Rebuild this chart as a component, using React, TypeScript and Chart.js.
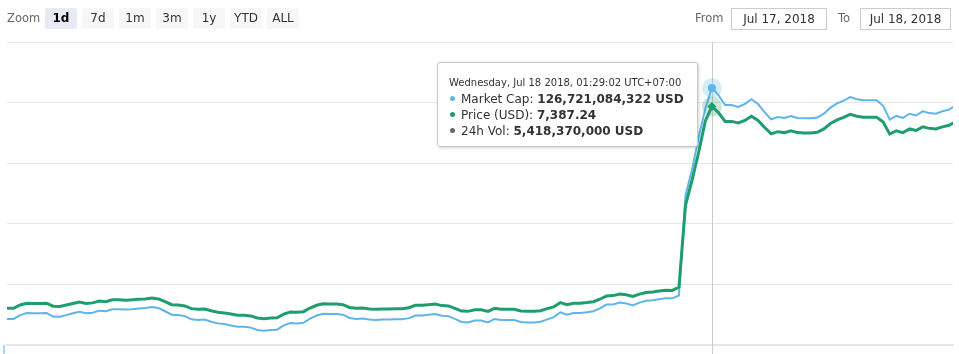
import React, { useEffect, useRef, useState } from 'react';
import { Chart, registerables } from 'chart.js';

Chart.register(...registerables);

// ---- Data (10-minute samples, Jul 17 2018 07:39 -> Jul 18 2018 07:39, UTC+07:00) ----
const priceUsd: number[] = [
  6721, 6721, 6732, 6738, 6737, 6737, 6738, 6728, 6727, 6732,
  6737, 6742, 6737, 6739, 6745, 6743, 6749, 6749, 6748, 6749,
  6751, 6752, 6755, 6752, 6743, 6733, 6732, 6729, 6720, 6718,
  6719, 6713, 6708, 6706, 6702, 6698, 6698, 6696, 6689, 6687,
  6689, 6690, 6702, 6709, 6708, 6710, 6722, 6731, 6736, 6735,
  6735, 6733, 6724, 6721, 6722, 6719, 6718, 6719, 6719, 6720,
  6720, 6723, 6731, 6731, 6733, 6735, 6730, 6729, 6721, 6712,
  6711, 6716, 6716, 6711, 6721, 6718, 6718, 6718, 6712, 6711,
  6711, 6713, 6720, 6726, 6740, 6733, 6738, 6738, 6740, 6743,
  6751, 6762, 6763, 6768, 6766, 6760, 6768, 6773, 6775, 6778,
  6781, 6780, 6791, 7062, 7145, 7237, 7339, 7387.24, 7367, 7338,
  7338, 7333, 7341, 7355, 7341, 7318, 7297, 7304, 7301, 7307,
  7301, 7300, 7300, 7302, 7313, 7331, 7343, 7351, 7361, 7355,
  7352, 7352, 7352, 7336, 7296, 7307, 7301, 7313, 7308, 7320,
  7315, 7313, 7320, 7325, 7337,
];

// Market cap in billions of USD
const marketCapB: number[] = [
  115.29, 115.29, 115.48, 115.58, 115.57, 115.57, 115.58, 115.41, 115.40, 115.48,
  115.57, 115.65, 115.57, 115.60, 115.70, 115.67, 115.77, 115.77, 115.76, 115.77,
  115.81, 115.83, 115.88, 115.83, 115.67, 115.50, 115.48, 115.43, 115.27, 115.24,
  115.26, 115.15, 115.07, 115.04, 114.97, 114.90, 114.90, 114.86, 114.74, 114.71,
  114.74, 114.76, 114.97, 115.09, 115.07, 115.10, 115.31, 115.46, 115.55, 115.53,
  115.53, 115.50, 115.34, 115.29, 115.31, 115.26, 115.24, 115.26, 115.26, 115.27,
  115.27, 115.33, 115.46, 115.46, 115.50, 115.53, 115.45, 115.43, 115.29, 115.14,
  115.12, 115.21, 115.21, 115.12, 115.29, 115.24, 115.24, 115.24, 115.14, 115.12,
  115.12, 115.15, 115.27, 115.38, 115.62, 115.50, 115.58, 115.58, 115.62, 115.67,
  115.81, 116.00, 116.01, 116.10, 116.06, 115.96, 116.10, 116.19, 116.22, 116.27,
  116.32, 116.31, 116.45, 121.40, 122.70, 124.30, 125.70, 126.721084322, 126.37, 125.88,
  125.88, 125.79, 125.93, 126.17, 125.93, 125.53, 125.17, 125.29, 125.24, 125.34,
  125.24, 125.22, 125.22, 125.26, 125.45, 125.75, 125.96, 126.10, 126.27, 126.17,
  126.12, 126.12, 126.12, 125.84, 125.16, 125.34, 125.24, 125.45, 125.36, 125.57,
  125.48, 125.45, 125.57, 125.65, 125.86,
];

const hoverIndex = 107;
const hoverTimeLabel = 'Wednesday, Jul 18 2018, 01:29:02 UTC+07:00';
const hoverVolume24h = 5418370000;

const priceTicks = { min: 6600, max: 7600, step: 200 };
const capTicks = { min: 114, max: 129 };
const xRange = { min: 0, max: 143.6 }; // visible range in sample units

const zoomButtons: string[] = ['1d', '7d', '1m', '3m', '1y', 'YTD', 'ALL'];
const selectedZoom = '1d';
const fromDate = 'Jul 17, 2018';
const toDate = 'Jul 18, 2018';

const BLUE = '#5db5ea';
const GREEN = '#1e9e6e';
const GREY_DOT = '#666666';
const FONT = '"DejaVu Sans", "Liberation Sans", sans-serif';

const hoverPlugin = {
  id: 'hoverMarks',
  beforeDatasetsDraw(chart: any) {
    const pt = chart.getDatasetMeta(0).data[hoverIndex];
    if (!pt) return;
    const ctx = chart.ctx;
    ctx.save();
    ctx.strokeStyle = '#cccccc';
    ctx.lineWidth = 1;
    const x = Math.round(pt.x) + 0.5;
    ctx.beginPath();
    ctx.moveTo(x, chart.chartArea.top);
    ctx.lineTo(x, chart.height);
    ctx.stroke();
    ctx.restore();
  },
  afterDatasetsDraw(chart: any) {
    const ctx = chart.ctx;
    const cap = chart.getDatasetMeta(0).data[hoverIndex];
    const pr = chart.getDatasetMeta(1).data[hoverIndex];
    if (!cap || !pr) return;
    ctx.save();
    ctx.fillStyle = 'rgba(93,181,234,0.25)';
    ctx.beginPath();
    ctx.arc(cap.x, cap.y, 10, 0, Math.PI * 2);
    ctx.fill();
    ctx.fillStyle = 'rgba(30,158,110,0.25)';
    ctx.beginPath();
    ctx.arc(pr.x, pr.y, 10, 0, Math.PI * 2);
    ctx.fill();
    ctx.fillStyle = BLUE;
    ctx.beginPath();
    ctx.arc(cap.x, cap.y, 4, 0, Math.PI * 2);
    ctx.fill();
    ctx.fillStyle = GREEN;
    ctx.beginPath();
    ctx.moveTo(pr.x, pr.y - 4.5);
    ctx.lineTo(pr.x + 4.5, pr.y);
    ctx.lineTo(pr.x, pr.y + 4.5);
    ctx.lineTo(pr.x - 4.5, pr.y);
    ctx.closePath();
    ctx.fill();
    ctx.restore();
  },
};

const fmtInt = (v: number) => Math.round(v).toLocaleString('en-US');
const fmtPrice = (v: number) =>
  v.toLocaleString('en-US', { minimumFractionDigits: 2, maximumFractionDigits: 2 });

export default function App() {
  const canvasRef = useRef<HTMLCanvasElement | null>(null);
  const [tipPos, setTipPos] = useState<{ left: number; top: number } | null>(null);

  useEffect(() => {
    if (!canvasRef.current) return;
    const capPoints = marketCapB.map((v, i) => ({ x: i, y: v }));
    const pricePoints = priceUsd.map((v, i) => ({ x: i, y: v }));
    const chart = new Chart(canvasRef.current, {
      type: 'line',
      data: {
        datasets: [
          {
            label: 'Market Cap',
            data: capPoints,
            yAxisID: 'yCap',
            borderColor: BLUE,
            borderWidth: 2,
            pointRadius: 0,
            tension: 0,
            order: 1,
          },
          {
            label: 'Price (USD)',
            data: pricePoints,
            yAxisID: 'yPrice',
            borderColor: GREEN,
            borderWidth: 3,
            pointRadius: 0,
            tension: 0,
            order: 0,
          },
        ],
      },
      options: {
        animation: false,
        responsive: false,
        maintainAspectRatio: false,
        events: [],
        layout: { padding: { left: 7, right: 6, top: 42, bottom: 9 } },
        plugins: { legend: { display: false }, tooltip: { enabled: false } },
        scales: {
          x: {
            type: 'linear',
            min: xRange.min,
            max: xRange.max,
            offset: false,
            grid: { display: false },
            ticks: { display: false },
            border: { display: true, color: '#e6e6e6', width: 2 },
            afterFit: (s: any) => { s.height = 0; },
          },
          yPrice: {
            position: 'left',
            min: priceTicks.min,
            max: priceTicks.max,
            ticks: { display: false, stepSize: priceTicks.step },
            grid: { color: '#e6e6e6', lineWidth: 1, drawTicks: false },
            border: { display: false },
            afterFit: (s: any) => { s.width = 0; },
          },
          yCap: {
            position: 'right',
            min: capTicks.min,
            max: capTicks.max,
            display: false,
          },
        },
      } as any,
      plugins: [hoverPlugin],
    });
    const cap = chart.getDatasetMeta(0).data[hoverIndex] as any;
    if (cap) setTipPos({ left: Math.round(cap.x) - 275, top: Math.round(cap.y) - 26 });
    return () => chart.destroy();
  }, []);

  const btnBase: React.CSSProperties = {
    position: 'absolute',
    top: 8,
    width: 32,
    height: 21,
    lineHeight: '21px',
    textAlign: 'center',
    fontSize: 12,
    color: '#333333',
    borderRadius: 2,
  };

  return (
    <div
      style={{
        position: 'fixed',
        left: 0,
        top: 0,
        width: 959,
        height: 354,
        background: '#ffffff',
        fontFamily: FONT,
        overflow: 'hidden',
      }}
    >
      <canvas ref={canvasRef} width={959} height={354} style={{ position: 'absolute', left: 0, top: 0 }} />

      <div style={{ position: 'absolute', left: 7, top: 8, height: 21, lineHeight: '21px', fontSize: 11.5, color: '#666666' }}>
        Zoom
      </div>
      {zoomButtons.map((b, i) => {
        const sel = b === selectedZoom;
        return (
          <div
            key={b}
            style={{
              ...btnBase,
              left: 45 + i * 37,
              background: sel ? '#e6ebf5' : '#f7f7f7',
              fontWeight: sel ? 'bold' : 'normal',
              color: sel ? '#000000' : '#333333',
            }}
          >
            {b}
          </div>
        );
      })}

      <div style={{ position: 'absolute', left: 695, top: 8, height: 21, lineHeight: '21px', fontSize: 11.5, color: '#666666' }}>
        From
      </div>
      <div
        style={{
          position: 'absolute', left: 731, top: 8, width: 94, height: 20, lineHeight: '20px',
          border: '1px solid #cccccc', textAlign: 'center', fontSize: 12, color: '#333333',
        }}
      >
        {fromDate}
      </div>
      <div style={{ position: 'absolute', left: 838, top: 8, height: 21, lineHeight: '21px', fontSize: 11.5, color: '#666666' }}>
        To
      </div>
      <div
        style={{
          position: 'absolute', left: 860, top: 8, width: 89, height: 20, lineHeight: '20px',
          border: '1px solid #cccccc', textAlign: 'center', fontSize: 12, color: '#333333',
        }}
      >
        {toDate}
      </div>

      <div style={{ position: 'absolute', left: 3, top: 345, width: 2, height: 9, background: '#b3d4f0' }} />

      {tipPos && (
        <div
          style={{
            position: 'absolute',
            left: tipPos.left,
            top: tipPos.top,
            width: 261,
            height: 85,
            background: 'rgba(255,255,255,0.97)',
            border: '1px solid #c8c8c8',
            borderRadius: 3,
            boxShadow: '1px 1px 3px rgba(0,0,0,0.18)',
            padding: '12px 0 0 11px',
            boxSizing: 'border-box',
            fontFamily: FONT,
            color: '#333333',
            whiteSpace: 'nowrap',
          }}
        >
          <div style={{ fontSize: 10, lineHeight: '16px', height: 16 }}>{hoverTimeLabel}</div>
          {[
            { color: BLUE, name: 'Market Cap', value: `${fmtInt(marketCapB[hoverIndex] * 1e9)} USD` },
            { color: GREEN, name: 'Price (USD)', value: fmtPrice(priceUsd[hoverIndex]) },
            { color: GREY_DOT, name: '24h Vol', value: `${fmtInt(hoverVolume24h)} USD` },
          ].map((r) => (
            <div key={r.name} style={{ fontSize: 12, lineHeight: '16px', height: 16 }}>
              <span
                style={{
                  display: 'inline-block', width: 5, height: 5, borderRadius: '50%', background: r.color,
                  marginLeft: 1, marginRight: 6, verticalAlign: 'middle', position: 'relative', top: -1,
                }}
              />
              {r.name}: <b>{r.value}</b>
            </div>
          ))}
        </div>
      )}
    </div>
  );
}
